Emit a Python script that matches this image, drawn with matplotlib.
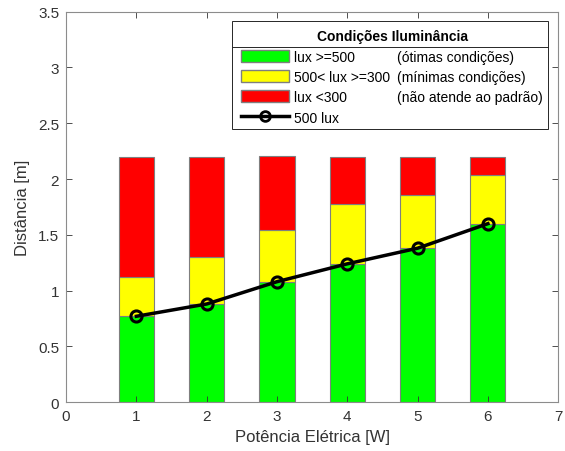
import numpy as np
import matplotlib.pyplot as plt
from matplotlib.patches import Patch, Rectangle
from matplotlib.lines import Line2D

plt.rcParams['font.family'] = ['Liberation Sans', 'DejaVu Sans']

# --- data ---
potencia = [1, 2, 3, 4, 5, 6]
verde = [0.77, 0.88, 1.08, 1.24, 1.38, 1.60]        # lux >= 500
amarelo_topo = [1.12, 1.30, 1.54, 1.78, 1.86, 2.04]  # top of yellow segment
total = [2.20, 2.20, 2.21, 2.20, 2.20, 2.20]
linha_500 = [0.77, 0.88, 1.08, 1.24, 1.38, 1.60]

amarelo = [a - v for a, v in zip(amarelo_topo, verde)]
vermelho = [t - a for t, a in zip(total, amarelo_topo)]

col1 = ['lux >=500', '500< lux >=300', 'lux <300', '500 lux']
col2 = ['(ótimas condições)', '(mínimas condições)', '(não atende ao padrão)', '']

fig, ax = plt.subplots(figsize=(5.65, 4.52), dpi=100)
fig.subplots_adjust(left=0.117, right=0.988, top=0.972, bottom=0.108)

edge = '#7f7f7f'
txt = '#333333'
ax.bar(potencia, verde, width=0.5, color='#00ff00', edgecolor=edge, linewidth=0.8)
ax.bar(potencia, amarelo, width=0.5, bottom=verde, color='#ffff00', edgecolor=edge, linewidth=0.8)
ax.bar(potencia, vermelho, width=0.5, bottom=amarelo_topo, color='#ff0000', edgecolor=edge, linewidth=0.8)
ax.plot(potencia, linha_500, color='black', linewidth=2.5, marker='o', markersize=8,
        markerfacecolor='none', markeredgewidth=2.2, zorder=5)

ax.set_xlim(0, 7)
ax.set_ylim(0, 3.5)
ax.set_xticks(range(0, 8))
ax.set_yticks(np.arange(0, 3.6, 0.5))
ax.set_yticklabels(['0', '0.5', '1', '1.5', '2', '2.5', '3', '3.5'])
ax.tick_params(direction='in', top=True, right=True, labelsize=11, colors=txt,
               length=4, width=0.6, pad=5)
for s in ax.spines.values():
    s.set_color('#8c8c8c')
    s.set_linewidth(0.8)
ax.set_xlabel('Potência Elétrica [W]', fontsize=12, color=txt, labelpad=4)
ax.set_ylabel('Distância [m]', fontsize=12, color=txt, labelpad=6)

# legend with two text columns: second column uses invisible handles
h1 = [Patch(facecolor='#00ff00', edgecolor=edge),
      Patch(facecolor='#ffff00', edgecolor=edge),
      Patch(facecolor='#ff0000', edgecolor=edge),
      Line2D([], [], color='black', linewidth=2.5, marker='o', markersize=7,
             markerfacecolor='none', markeredgewidth=2)]
h2 = [Patch(visible=False) for _ in range(4)]
leg = ax.legend(h1 + h2, col1 + col2, ncol=2, loc='upper right',
                bbox_to_anchor=(0.979, 0.9685), borderaxespad=0, fontsize=10,
                title='Condições Iluminância',
                title_fontproperties={'weight': 'bold', 'size': 10},
                handlelength=3.4, handleheight=0.95, handletextpad=0.4,
                columnspacing=-3.3, labelspacing=0.45, borderpad=0.35,
                frameon=False)
leg._legend_box.sep = 5

# own frame (extra room on the left) + separator under the title
fig.canvas.draw()
r = fig.canvas.get_renderer()
lb = leg.get_window_extent(r)
tb = leg.get_title().get_window_extent(r)
inv = ax.transAxes.inverted()
(bx0, by0), (bx1, by1) = inv.transform([(lb.x0 - 5, lb.y0), (lb.x1, lb.y1 + 3)])
ax.add_patch(Rectangle((bx0, by0), bx1 - bx0, by1 - by0, transform=ax.transAxes,
                       facecolor='white', edgecolor='#262626', linewidth=0.7,
                       zorder=4.9, clip_on=False))
ysep = inv.transform((0, tb.y0 - 4))[1]
ax.add_line(Line2D([bx0, bx1], [ysep, ysep], transform=ax.transAxes,
                   color='#262626', linewidth=0.7, zorder=5.1, clip_on=False))

fig.savefig('out.png', dpi=100)
